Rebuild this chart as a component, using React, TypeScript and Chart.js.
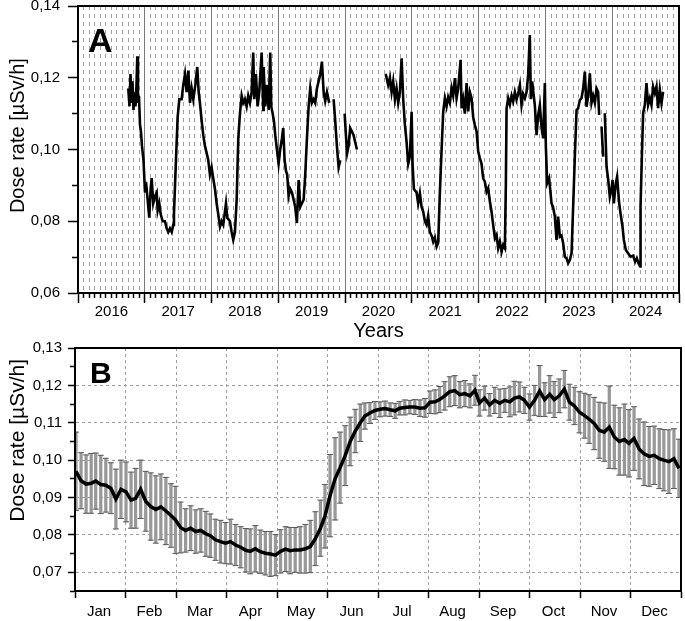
import React, { useEffect, useRef } from 'react';
import { Chart, registerables } from 'chart.js';
Chart.register(...registerables);

const FONT = '"Liberation Sans", Arial, Helvetica, sans-serif';

// ---------- Panel A : daily dose rate 2016-2024 ----------
const yearLabels = ['2016', '2017', '2018', '2019', '2020', '2021', '2022', '2023', '2024'];
const aTicksY = [0.06, 0.07, 0.08, 0.09, 0.10, 0.11, 0.12, 0.13, 0.14];

const aYears = [
  2016.753, 2016.771, 2016.786, 2016.801, 2016.816, 2016.831, 2016.846, 2016.861, 2016.876, 2016.888,
  2016.898, 2016.913, 2016.928, 2016.943, 2016.958, 2016.981, 2017.003, 2017.018, 2017.033, 2017.048,
  2017.067, 2017.088, 2017.103, 2017.127, 2017.153, 2017.178, 2017.193, 2017.217, 2017.238, 2017.268,
  2017.302, 2017.328, 2017.352, 2017.377, 2017.403, 2017.427, 2017.437, 2017.467, 2017.492, 2017.517,
  2017.552, 2017.577, 2017.602, 2017.627, 2017.652, 2017.677, 2017.702, 2017.727, 2017.757, 2017.786,
  2017.807, 2017.826, 2017.852, 2017.876, 2017.901, 2017.927, 2017.951, 2017.976, 2018.001, 2018.025,
  2018.051, 2018.076, 2018.100, 2018.126, 2018.151, 2018.175, 2018.216, 2018.235, 2018.275, 2018.301,
  2018.325, 2018.350, 2018.376, 2018.400, 2018.425, 2018.451, 2018.475, 2018.500, 2018.525, 2018.549,
  2018.575, 2018.600, 2018.624, 2018.639, 2018.665, 2018.690, 2018.714, 2018.750, 2018.774, 2018.780,
  2018.804, 2018.829, 2018.855, 2018.879, 2018.894, 2018.915, 2018.934, 2018.954, 2018.979, 2019.004,
  2019.028, 2019.054, 2019.073, 2019.094, 2019.114, 2019.133, 2019.154, 2019.178, 2019.204, 2019.229,
  2019.253, 2019.278, 2019.304, 2019.328, 2019.353, 2019.379, 2019.403, 2019.428, 2019.454, 2019.478,
  2019.503, 2019.528, 2019.552, 2019.578, 2019.603, 2019.627, 2019.653, 2019.678, 2019.702, 2019.728,
  2019.762, 2019.795,
  2019.828, 2019.852, 2019.877, 2019.903, 2019.927, 2019.960,
  2019.993, 2020.012, 2020.031, 2020.052, 2020.076, 2020.102, 2020.127, 2020.151, 2020.177, 2020.400,
  2020.600, 2020.611, 2020.645, 2020.671, 2020.696, 2020.720, 2020.746, 2020.771, 2020.795, 2020.820,
  2020.846, 2020.870, 2020.895, 2020.921, 2020.945, 2020.970, 2020.996, 2021.010, 2021.030, 2021.070,
  2021.094, 2021.120, 2021.145, 2021.169, 2021.195, 2021.220, 2021.244, 2021.269, 2021.295, 2021.319,
  2021.344, 2021.370, 2021.394, 2021.419, 2021.445, 2021.469, 2021.494, 2021.519, 2021.543, 2021.569,
  2021.594, 2021.618, 2021.644, 2021.669, 2021.693, 2021.729, 2021.744, 2021.768, 2021.793, 2021.819,
  2021.843, 2021.868, 2021.894, 2021.918, 2021.943, 2021.969, 2021.993, 2022.018, 2022.043, 2022.067,
  2022.093, 2022.118, 2022.142, 2022.168, 2022.193, 2022.217, 2022.243, 2022.268, 2022.292, 2022.317,
  2022.343, 2022.367, 2022.392, 2022.407, 2022.418, 2022.442, 2022.467, 2022.493, 2022.517, 2022.542,
  2022.567, 2022.591, 2022.617, 2022.642, 2022.666, 2022.692, 2022.717, 2022.741, 2022.766, 2022.781,
  2022.801, 2022.817, 2022.841, 2022.867, 2022.891, 2022.916, 2022.942, 2022.966, 2022.991, 2023.006,
  2023.026, 2023.055, 2023.091, 2023.115, 2023.141, 2023.166, 2023.190, 2023.216, 2023.241, 2023.265,
  2023.290, 2023.316, 2023.340, 2023.365, 2023.391, 2023.415, 2023.440, 2023.466, 2023.490, 2023.515,
  2023.540, 2023.565, 2023.590, 2023.615, 2023.639, 2023.665, 2023.690, 2023.714, 2023.740, 2023.765,
  2023.789, 2023.804, 2023.822, 2023.840, 2023.864, 2023.876, 2023.889, 2023.915, 2023.940, 2023.964,
  2023.990, 2024.005, 2024.024, 2024.054, 2024.073, 2024.103, 2024.124, 2024.154, 2024.174, 2024.204,
  2024.238, 2024.274, 2024.313, 2024.343, 2024.368, 2024.393, 2024.419, 2024.424, 2024.444, 2024.463,
  2024.488, 2024.513, 2024.537, 2024.563, 2024.588, 2024.612, 2024.638, 2024.663, 2024.687, 2024.713,
  2024.738, 2024.762,
];

const aDose = [
  0.117, 0.112, 0.121, 0.113, 0.119, 0.111, 0.116, 0.112, 0.118, 0.126,
  0.113, 0.115, 0.107, 0.105, 0.101, 0.097, 0.088, 0.091, 0.088, 0.085,
  0.081, 0.089, 0.092, 0.085, 0.087, 0.088, 0.083, 0.085, 0.082, 0.080,
  0.080, 0.078, 0.077, 0.078, 0.077, 0.079, 0.082, 0.097, 0.109, 0.114,
  0.114, 0.118, 0.121, 0.116, 0.122, 0.113, 0.117, 0.114, 0.118, 0.123,
  0.116, 0.113, 0.108, 0.104, 0.101, 0.099, 0.097, 0.093, 0.095, 0.092,
  0.089, 0.085, 0.082, 0.0785, 0.080, 0.079, 0.085, 0.081, 0.080, 0.077,
  0.0748, 0.077, 0.086, 0.103, 0.110, 0.115, 0.113, 0.114, 0.112, 0.115,
  0.113, 0.116, 0.127, 0.114, 0.121, 0.112, 0.116, 0.127, 0.111, 0.123,
  0.112, 0.118, 0.111, 0.127, 0.112, 0.110, 0.108, 0.104, 0.100, 0.096,
  0.100, 0.103, 0.106, 0.097, 0.094, 0.093, 0.087, 0.089, 0.088, 0.086,
  0.084, 0.0795, 0.0915, 0.084, 0.085, 0.086, 0.093, 0.103, 0.112, 0.117,
  0.113, 0.114, 0.113, 0.117, 0.119, 0.121, 0.1245, 0.116, 0.1135, 0.116,
  0.113, null,
  0.114, 0.108, 0.101, 0.095, 0.097, null,
  0.110, 0.104, 0.099, 0.101, 0.106, 0.105, 0.104, 0.102, 0.100, null,
  0.121, 0.1208, 0.118, 0.120, 0.116, 0.119, 0.114, 0.117, 0.113, 0.116,
  0.1254, 0.114, 0.107, 0.102, 0.096, 0.098, 0.1105, 0.096, 0.089, 0.088,
  0.085, 0.0878, 0.084, 0.0827, 0.080, 0.079, 0.0815, 0.077, 0.076, 0.0743,
  0.0755, 0.0729, 0.074, 0.088, 0.100, 0.1105, 0.1143, 0.112, 0.1146, 0.113,
  0.1171, 0.115, 0.1199, 0.1143, 0.117, 0.125, 0.1115, 0.114, 0.110, 0.1185,
  0.1106, 0.116, 0.1143, 0.109, 0.1068, 0.105, 0.0994, 0.0976, 0.096, 0.092,
  0.091, 0.0882, 0.0892, 0.0855, 0.0827, 0.079, 0.0753, 0.0762, 0.0725, 0.0743,
  0.0715, 0.0734, 0.0725, 0.090, 0.1115, 0.1143, 0.1125, 0.115, 0.1134, 0.116,
  0.1139, 0.1155, 0.118, 0.1124, 0.1155, 0.1143, 0.116, 0.1208, 0.1319, 0.114,
  0.119, 0.1162, 0.1124, 0.104, 0.1096, 0.1124, 0.106, 0.1031, 0.1185, 0.1008,
  0.0906, 0.092, 0.085, 0.0838, 0.0813, 0.0748, 0.0813, 0.0757, 0.076, 0.0739,
  0.0701, 0.0697, 0.0683, 0.0692, 0.0711, 0.0841, 0.098, 0.111, 0.1115, 0.1138,
  0.1143, 0.117, 0.1217, 0.1119, 0.115, 0.1212, 0.113, 0.115, 0.113, 0.117,
  0.116, 0.1096, null, 0.1064, 0.098, null, 0.1101, 0.0952, 0.0915, 0.0868,
  0.089, 0.0915, 0.085, 0.0906, 0.0924, 0.0852, 0.0822, 0.0785, 0.0748, 0.0720,
  0.0711, 0.0701, 0.0704, 0.0687, 0.0697, 0.0683, 0.0674, 0.0841, 0.098, 0.1101,
  0.1124, 0.1185, 0.1124, 0.1143, 0.1124, 0.1175, 0.1157, 0.1175, 0.1115, 0.1166,
  0.1129, 0.1161,
];

// ---------- Panel B : mean annual course (mean ± SD) ----------
const monthLabels = ['Jan', 'Feb', 'Mar', 'Apr', 'May', 'Jun', 'Jul', 'Aug', 'Sep', 'Oct', 'Nov', 'Dec'];
const bTicksY = [0.065, 0.07, 0.075, 0.08, 0.085, 0.09, 0.095, 0.10, 0.105, 0.11, 0.115, 0.12, 0.125, 0.13];

const bMonths = [
  0.02, 0.12, 0.22, 0.32, 0.41, 0.51, 0.61, 0.71, 0.81, 0.91,
  1.01, 1.11, 1.20, 1.30, 1.40, 1.50, 1.60, 1.70, 1.80, 1.90,
  1.99, 2.09, 2.19, 2.29, 2.39, 2.49, 2.59, 2.68, 2.78, 2.88,
  2.98, 3.08, 3.18, 3.28, 3.38, 3.47, 3.57, 3.67, 3.77, 3.87,
  3.97, 4.07, 4.17, 4.26, 4.36, 4.46, 4.56, 4.66, 4.76, 4.86,
  4.95, 5.05, 5.15, 5.25, 5.35, 5.45, 5.55, 5.65, 5.74, 5.84,
  5.94, 6.04, 6.14, 6.24, 6.34, 6.43, 6.53, 6.63, 6.73, 6.83,
  6.93, 7.03, 7.13, 7.22, 7.32, 7.42, 7.52, 7.62, 7.72, 7.82,
  7.92, 8.01, 8.11, 8.21, 8.31, 8.41, 8.51, 8.61, 8.70, 8.80,
  8.90, 9.00, 9.10, 9.20, 9.30, 9.40, 9.49, 9.59, 9.69, 9.79,
  9.89, 9.99, 10.09, 10.18, 10.28, 10.38, 10.48, 10.58, 10.68, 10.78,
  10.88, 10.97, 11.07, 11.17, 11.27, 11.37, 11.47, 11.57, 11.66, 11.76,
  11.86, 11.96,
];

const bMean = [
  0.0970, 0.0945, 0.0936, 0.0938, 0.0944, 0.0935, 0.0933, 0.0925, 0.0896, 0.0922,
  0.0915, 0.0893, 0.0898, 0.0922, 0.0890, 0.0876, 0.0868, 0.0875, 0.0864, 0.0852,
  0.0840, 0.0820, 0.0812, 0.0818, 0.0809, 0.0812, 0.0803, 0.0798, 0.0787, 0.0782,
  0.0778, 0.0782, 0.0773, 0.0767, 0.0759, 0.0756, 0.0763, 0.0755, 0.0751, 0.0749,
  0.0746, 0.0756, 0.0762, 0.0758, 0.0760, 0.0760, 0.0763, 0.0769, 0.0790, 0.0818,
  0.0850, 0.0905, 0.0950, 0.0980, 0.1012, 0.1050, 0.1078, 0.1100, 0.1118, 0.1126,
  0.1133, 0.1136, 0.1138, 0.1135, 0.1132, 0.1139, 0.1141, 0.1142, 0.1142, 0.1139,
  0.1140, 0.1155, 0.1156, 0.1162, 0.1172, 0.1183, 0.1186, 0.1175, 0.1178, 0.1172,
  0.1187, 0.1153, 0.1166, 0.1148, 0.1160, 0.1152, 0.1160, 0.1156, 0.1166, 0.1169,
  0.1160, 0.1142, 0.1160, 0.1185, 0.1162, 0.1176, 0.1162, 0.1172, 0.1190, 0.1155,
  0.1145, 0.1128, 0.1119, 0.1110, 0.1098, 0.1080, 0.1075, 0.1088, 0.1062, 0.1050,
  0.1055, 0.1045, 0.1058, 0.1030, 0.1017, 0.1010, 0.1013, 0.1004, 0.1000, 0.0996,
  0.1004, 0.0978,
];

const bSd = [
  0.0105, 0.0075, 0.0078, 0.0080, 0.0075, 0.0078, 0.0072, 0.0068, 0.0080, 0.0078,
  0.0080, 0.0075, 0.0080, 0.0078, 0.0080, 0.0090, 0.0090, 0.0088, 0.0090, 0.0085,
  0.0090, 0.0068, 0.0058, 0.0060, 0.0058, 0.0058, 0.0060, 0.0058, 0.0055, 0.0057,
  0.0055, 0.0060, 0.0055, 0.0055, 0.0058, 0.0060, 0.0062, 0.0058, 0.0058, 0.0060,
  0.0055, 0.0058, 0.0060, 0.0062, 0.0060, 0.0062, 0.0065, 0.0070, 0.0072, 0.0075,
  0.0085, 0.0110, 0.0110, 0.0095, 0.0080, 0.0065, 0.0058, 0.0050, 0.0035, 0.0028,
  0.0024, 0.0020, 0.0020, 0.0018, 0.0020, 0.0018, 0.0020, 0.0018, 0.0020, 0.0022,
  0.0025, 0.0030, 0.0032, 0.0035, 0.0038, 0.0040, 0.0040, 0.0035, 0.0035, 0.0032,
  0.0040, 0.0035, 0.0032, 0.0030, 0.0035, 0.0038, 0.0032, 0.0040, 0.0045, 0.0040,
  0.0035, 0.0035, 0.0040, 0.0068, 0.0045, 0.0050, 0.0048, 0.0045, 0.0050, 0.0048,
  0.0050, 0.0055, 0.0060, 0.0065, 0.0070, 0.0075, 0.0078, 0.0110, 0.0085, 0.0090,
  0.0095, 0.0090, 0.0085, 0.0080, 0.0085, 0.0080, 0.0078, 0.0080, 0.0082, 0.0085,
  0.0080, 0.0078,
];

// ---------- helpers ----------
const fmt = (v: number) => v.toFixed(2).replace('.', ',');
const noIdx = (c: any) => c == null || c.index === undefined || c.type === 'scale';
const Y_TITLE_A = '     Dose rate [µSv/h]';
const Y_TITLE_B = '          Dose rate [µSv/h]';

const framePlugin = {
  id: 'frame',
  afterDatasetsDraw(chart: any) {
    const { ctx, chartArea: a } = chart;
    ctx.save();
    ctx.strokeStyle = '#000';
    ctx.lineWidth = 2;
    ctx.strokeRect(a.left, a.top, a.right - a.left, a.bottom - a.top);
    ctx.restore();
  },
};

const panelLabel = (text: string, dx: number, dy: number, size: number) => ({
  id: 'panel' + text,
  afterDraw(chart: any) {
    const { ctx, chartArea: a } = chart;
    ctx.save();
    ctx.font = `bold ${size}px ${FONT}`;
    ctx.fillStyle = '#000';
    ctx.textAlign = 'left';
    ctx.textBaseline = 'alphabetic';
    ctx.fillText(text, a.left + dx, a.top + dy);
    ctx.restore();
  },
});

function buildA(canvas: HTMLCanvasElement) {
  const pts = aYears.map((x, i) => ({ x, y: aDose[i] }));
  return new Chart(canvas, {
    type: 'line',
    data: {
      datasets: [
        { data: pts, borderColor: '#000', borderWidth: 2.6, pointRadius: 0, tension: 0, spanGaps: false },
      ],
    },
    options: {
      animation: false,
      responsive: false,
      maintainAspectRatio: false,
      layout: { padding: { left: 0, right: 6, top: 6, bottom: 0 } },
      plugins: { legend: { display: false }, tooltip: { enabled: false } },
      scales: {
        x: {
          type: 'linear',
          min: 2016,
          max: 2025,
          offset: false,
          afterBuildTicks: (s: any) => {
            s.ticks = Array.from({ length: 109 }, (_, i) => ({ value: 2016 + i / 12 }));
          },
          afterFit: (s: any) => { s.height = 52; s.paddingLeft = 0; s.paddingRight = 0; },
          ticks: {
            autoSkip: false, maxRotation: 0, minRotation: 0, padding: 0, color: '#000',
            font: { family: FONT, size: 15 },
            callback: (_v: any, i: number) => (i % 12 === 6 ? yearLabels[Math.floor(i / 12)] : ''),
          },
          grid: {
            offset: false,
            color: (c: any) => (c.index % 12 === 0 ? '#7a7a7a' : '#a0a0a0'),
            lineWidth: 1,
            tickLength: 10,
            tickColor: '#000',
            tickWidth: 1.5,
            tickBorderDash: (c: any) => (c.index % 12 === 0 ? [] : [4, 40]),
          },
          border: {
            display: true, color: '#000', width: 2,
            dash: (c: any) => (noIdx(c) || c.index % 12 === 0 ? [] : [4, 4]),
          },
          title: {
            display: true, text: 'Years', color: '#000',
            font: { family: FONT, size: 20 }, padding: { top: 0, bottom: 2 },
          },
        },
        y: {
          type: 'linear',
          min: 0.06,
          max: 0.14,
          afterBuildTicks: (s: any) => { s.ticks = aTicksY.map((v) => ({ value: v })); },
          afterFit: (s: any) => { s.width = 78; s.paddingTop = 0; s.paddingBottom = 0; },
          ticks: {
            padding: 8, color: '#000', autoSkip: false,
            font: { family: FONT, size: 15 },
            callback: (v: any, i: number) => (i % 2 === 0 ? fmt(Number(v)) : ''),
          },
          grid: {
            drawOnChartArea: false,
            tickLength: 10,
            tickColor: '#000',
            tickWidth: 1.5,
            tickBorderDash: (c: any) => (c.index % 2 === 0 ? [] : [0, 4, 5, 40]),
          },
          border: { display: true, color: '#000', width: 2 },
          title: {
            display: true, text: Y_TITLE_A, color: '#000',
            font: { family: FONT, size: 20 }, padding: { top: 6, bottom: 0 },
          },
        },
      },
    },
    plugins: [framePlugin, panelLabel('A', 10, 46, 34)],
  } as any);
}

function buildB(canvas: HTMLCanvasElement) {
  const mean = bMonths.map((x, i) => ({ x, y: bMean[i] }));
  const hi = bMonths.map((x, i) => ({ x, y: bMean[i] + bSd[i] }));
  const lo = bMonths.map((x, i) => ({ x, y: bMean[i] - bSd[i] }));
  const bars = bMonths.map((x, i) => ({ x, y: [bMean[i] - bSd[i], bMean[i] + bSd[i]] }));
  const capStyle = {
    type: 'line', showLine: false, pointStyle: 'line', pointRadius: 3, pointHoverRadius: 3,
    pointBorderColor: '#5a5a5a', pointBorderWidth: 1, borderColor: '#5a5a5a', order: 1,
  };
  return new Chart(canvas, {
    type: 'line',
    data: {
      datasets: [
        { type: 'line', data: mean, borderColor: '#000', borderWidth: 3.5, pointRadius: 0, tension: 0, order: 0 },
        { ...capStyle, data: hi },
        { ...capStyle, data: lo },
        { type: 'bar', data: bars, backgroundColor: '#989898', borderWidth: 0, barThickness: 2.6, grouped: false, order: 2 },
      ],
    },
    options: {
      animation: false,
      responsive: false,
      maintainAspectRatio: false,
      layout: { padding: { left: 0, right: 2, top: 13, bottom: 0 } },
      plugins: { legend: { display: false }, tooltip: { enabled: false } },
      scales: {
        x: {
          type: 'linear',
          min: 0,
          max: 12,
          offset: false,
          afterBuildTicks: (s: any) => {
            s.ticks = Array.from({ length: 13 }, (_, i) => ({ value: i }));
          },
          afterFit: (s: any) => { s.height = 30; s.paddingLeft = 0; s.paddingRight = 0; },
          ticks: {
            autoSkip: false, maxRotation: 0, minRotation: 0, padding: 5, color: '#000',
            labelOffset: 24,
            font: { family: FONT, size: 15 },
            callback: (_v: any, i: number) => (i < 12 ? monthLabels[i] : ''),
          },
          grid: {
            offset: false,
            color: (c: any) => (c.index === 0 || c.index === 12 ? 'rgba(0,0,0,0)' : '#a0a0a0'),
            lineWidth: 1,
            tickLength: 7,
            tickColor: '#000',
            tickWidth: 1.5,
          },
          border: { display: true, color: '#000', width: 2, dash: (c: any) => (noIdx(c) ? [] : [3, 3]) },
        },
        y: {
          type: 'linear',
          min: 0.065,
          max: 0.13,
          afterBuildTicks: (s: any) => { s.ticks = bTicksY.map((v) => ({ value: v })); },
          afterFit: (s: any) => { s.width = 75; s.paddingTop = 0; s.paddingBottom = 0; },
          ticks: {
            padding: 6, color: '#000', autoSkip: false,
            font: { family: FONT, size: 15 },
            callback: (v: any, i: number) => (i % 2 === 1 ? fmt(Number(v)) : ''),
          },
          grid: {
            color: (c: any) => (c.index % 2 === 1 && c.index !== 13 ? '#a0a0a0' : 'rgba(0,0,0,0)'),
            lineWidth: 1,
            tickLength: 7,
            tickColor: '#000',
            tickWidth: 1.5,
            tickBorderDash: (c: any) => (c.index % 2 === 1 ? [] : [0, 2, 4, 40]),
          },
          border: { display: true, color: '#000', width: 2, dash: (c: any) => (noIdx(c) ? [] : [3, 3]) },
          title: {
            display: true, text: Y_TITLE_B, color: '#000',
            font: { family: FONT, size: 21 }, padding: { top: 6, bottom: 0 },
          },
        },
      },
    },
    plugins: [framePlugin, panelLabel('B', 15, 35, 30)],
  } as any);
}

export default function App() {
  const refA = useRef<HTMLCanvasElement>(null);
  const refB = useRef<HTMLCanvasElement>(null);
  useEffect(() => {
    const a = buildA(refA.current!);
    const b = buildB(refB.current!);
    return () => { a.destroy(); b.destroy(); };
  }, []);
  return (
    <div style={{ position: 'fixed', left: 0, top: 0, width: 685, height: 621, background: '#fff' }}>
      <canvas ref={refA} width={685} height={345} style={{ position: 'absolute', left: 0, top: 0 }} />
      <canvas ref={refB} width={685} height={286} style={{ position: 'absolute', left: 0, top: 335 }} />
    </div>
  );
}
